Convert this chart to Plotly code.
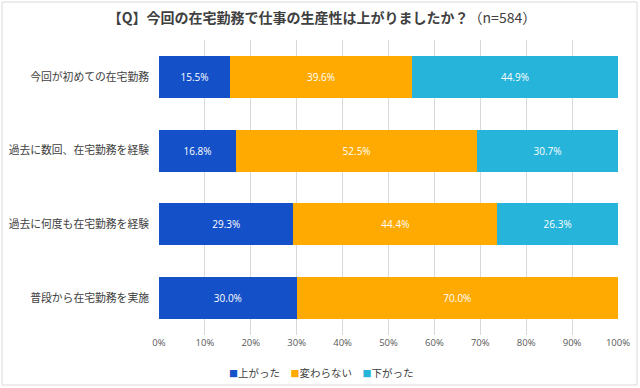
import plotly.graph_objects as go

categories = ["今回が初めての在宅勤務", "過去に数回、在宅勤務を経験", "過去に何度も在宅勤務を経験", "普段から在宅勤務を実施"]
up = [15.5, 16.8, 29.3, 30.0]
same = [39.6, 52.5, 44.4, 70.0]
down = [44.9, 30.7, 26.3, 0.0]
series_names = ["上がった", "変わらない", "下がった"]
colors = ["#1450C8", "#FFAA00", "#26B4DA"]
tick_vals = [0, 10, 20, 30, 40, 50, 60, 70, 80, 90, 100]
tick_text = [f"{v}%" for v in tick_vals]
title_main = "【Q】今回の在宅勤務で仕事の生産性は上がりましたか？"
title_n = "（n=584）"

FONT = "Noto Sans CJK JP"
fig = go.Figure()
for name, vals, col in zip(series_names, [up, same, down], colors):
    fig.add_trace(go.Bar(
        y=categories, x=vals, name=name, orientation="h",
        marker=dict(color=col, line=dict(width=0)),
        text=[f"{v:.1f}%" if v > 0 else "" for v in vals],
        textposition="inside", insidetextanchor="middle",
        textfont=dict(color="white", size=10, family="Open Sans"),
        showlegend=False,
    ))

L, R, T, B = 159, 22, 40, 53
W, H = 640, 388
pw, ph = W - L - R, H - T - B

legend_text = "\u2003".join(
    f"<span style='color:{c};font-size:9px'>■</span>{n}" for n, c in zip(series_names, colors)
)

fig.update_layout(
    width=W, height=H, barmode="stack", bargap=0.43,
    margin=dict(l=L, r=R, t=T, b=B, autoexpand=False),
    paper_bgcolor="white", plot_bgcolor="white",
    font=dict(family=FONT, color="#404040"),
    title=dict(
        text=f"<b>{title_main}</b>{title_n}",
        x=322 / W, xref="container", y=1 - 18 / H, yref="container",
        yanchor="middle", xanchor="center",
        font=dict(size=14, color="#404040", family=FONT),
    ),
    xaxis=dict(
        range=[0, 100], tickvals=tick_vals, ticktext=tick_text,
        showgrid=True, gridcolor="#D9D9D9", gridwidth=1, zeroline=False,
        tickfont=dict(size=9.5, color="#595959", family="Open Sans"),
        ticks="", fixedrange=True, automargin=False, showline=False,
    ),
    yaxis=dict(
        autorange="reversed", tickfont=dict(size=10.8, color="#404040", family=FONT),
        ticks="", ticklabelstandoff=9, automargin=False, fixedrange=True,
    ),
    annotations=[dict(
        text=legend_text, xref="paper", yref="paper",
        x=(321 - L) / pw, y=-(372 - T - ph) / ph, xanchor="center", yanchor="middle",
        showarrow=False, font=dict(size=10.5, color="#404040", family=FONT),
    )],
    shapes=[dict(type="rect", xref="paper", yref="paper",
                 x0=(2 - L) / pw, x1=(637 - L) / pw,
                 y0=-(385 - T - ph) / ph, y1=1 + (T - 2) / ph,
                 line=dict(color="#D9D9D9", width=1), fillcolor="rgba(0,0,0,0)", layer="below")],
)
fig.write_html("out.html", config={"displayModeBar": False},
               post_script="document.body.style.margin='0';document.body.style.overflow='hidden';")
